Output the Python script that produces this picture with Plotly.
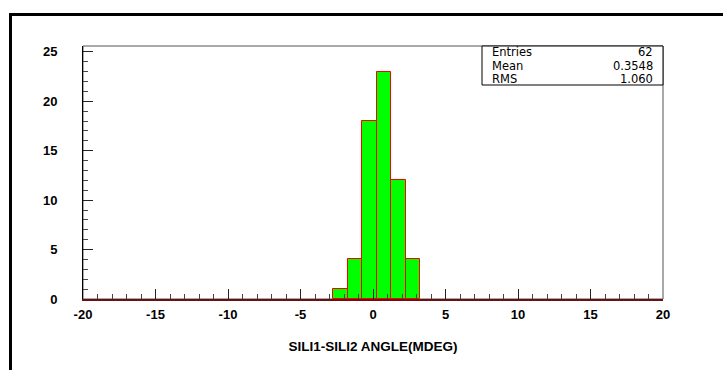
import plotly.graph_objects as go

# Data
bin_centers = [-2.25, -1.25, -0.25, 0.75, 1.75, 2.75]
counts = [1, 4, 18, 23, 12, 4]
bin_width = 1.0
x_range = [-20, 20]
y_range = [0, 25.6]
x_ticks = [-20, -15, -10, -5, 0, 5, 10, 15, 20]
y_ticks = [0, 5, 10, 15, 20, 25]
stat_names = ["Entries", "Mean", "RMS"]
stat_values = ["62", "0.3548", "1.060"]
x_title = "SILI1-SILI2 ANGLE(MDEG)"

W, H = 723, 370
ML, MR, MT, MB = 83, 60, 46, 71
PW, PH = W - ML - MR, H - MT - MB

def px2paper_x(px):
    return (px - ML) / PW

def px2paper_y(py):
    return (H - MB - py) / PH

fig = go.Figure()
fig.add_trace(go.Bar(
    x=bin_centers, y=counts, width=bin_width,
    marker=dict(color="#00ff00", line=dict(color="#ff0000", width=1)),
    showlegend=False, hoverinfo="skip",
))

tickfont = dict(family="Liberation Sans, Arial, sans-serif", size=13, color="black", weight="bold")

fig.update_layout(
    width=W, height=H,
    margin=dict(l=ML, r=MR, t=MT, b=MB),
    paper_bgcolor="white", plot_bgcolor="white",
    bargap=0,
    xaxis=dict(
        range=x_range, tickmode="array", tickvals=x_ticks,
        ticktext=[str(v) for v in x_ticks],
        ticks="inside", ticklen=10, tickwidth=1, tickcolor="#222",
        minor=dict(dtick=1, tick0=0, ticks="inside", ticklen=5, tickwidth=1, tickcolor="#444"),
        showline=True, linecolor="#6a1010", linewidth=2,
        showgrid=False, zeroline=False, tickfont=tickfont, ticklabelstandoff=2,
        title=dict(text=x_title, font=dict(family="Liberation Sans, Arial, sans-serif", size=13.5,
                                            color="black", weight="bold"), standoff=21),
    ),
    yaxis=dict(
        range=y_range, tickmode="array", tickvals=y_ticks,
        ticktext=[str(v) for v in y_ticks],
        ticks="inside", ticklen=10, tickwidth=1, tickcolor="#222",
        minor=dict(dtick=1, tick0=0, ticks="inside", ticklen=5, tickwidth=1, tickcolor="#444"),
        showline=True, linecolor="black", linewidth=1,
        showgrid=False, zeroline=False, tickfont=tickfont, ticklabelstandoff=22,
    ),
)

shapes = []
# plot frame (top/right grey)
shapes.append(dict(type="rect", xref="paper", yref="paper", x0=0, x1=1, y0=0, y1=1,
                   line=dict(color="#555", width=1), layer="below"))
# outer canvas frame
shapes.append(dict(type="rect", xref="paper", yref="paper",
                   x0=px2paper_x(10.5), x1=px2paper_x(740), y0=px2paper_y(400), y1=px2paper_y(14.5),
                   line=dict(color="black", width=3)))
# stats box
box_left, box_right, box_top, box_bottom = 482, 663, 46, 85
shapes.append(dict(type="rect", xref="paper", yref="paper",
                   x0=px2paper_x(box_left), x1=px2paper_x(box_right),
                   y0=px2paper_y(box_bottom), y1=px2paper_y(box_top),
                   line=dict(color="black", width=1), fillcolor="white", layer="above"))
fig.update_layout(shapes=shapes)

row_h = (box_bottom - box_top) / len(stat_names)
statfont = dict(family="DejaVu Sans, sans-serif", size=11.5, color="black")
for i, (n, v) in enumerate(zip(stat_names, stat_values)):
    yc = px2paper_y(box_top + row_h * (i + 0.5))
    fig.add_annotation(x=px2paper_x(box_left), y=yc, xref="paper", yref="paper",
                       text=n, showarrow=False, xanchor="left", yanchor="middle",
                       xshift=9, font=statfont, borderpad=0, height=12)
    fig.add_annotation(x=px2paper_x(box_right), y=yc, xref="paper", yref="paper",
                       text=v, showarrow=False, xanchor="right", yanchor="middle",
                       xshift=-9, font=statfont, borderpad=0, height=12)

fig.write_html("out.html")
